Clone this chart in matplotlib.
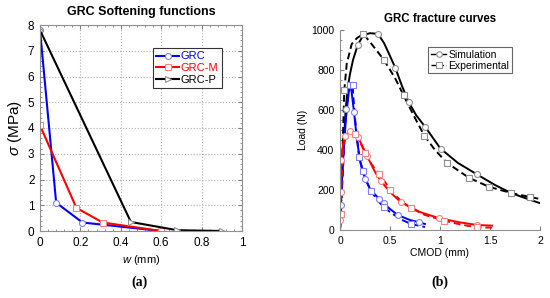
import numpy as np
import matplotlib
matplotlib.use("Agg")
import matplotlib.pyplot as plt
from matplotlib.ticker import AutoMinorLocator

# ---- (a) softening functions ----
grc_w = [0, 0.08, 0.21, 0.6]
grc_s = [7.8, 1.1, 0.33, 0.0]
grcm_w = [0, 0.18, 0.31, 0.6]
grcm_s = [4.1, 0.9, 0.33, 0.0]
grcp_w = [0, 0.45, 0.68, 0.9]
grcp_s = [7.8, 0.35, 0.03, 0.0]
a_xticks = [0, 0.2, 0.4, 0.6, 0.8, 1]
a_xlabels = ['0', '0.2', '0.4', '0.6', '0.8', '1']
a_yticks = [0, 1, 2, 3, 4, 5, 6, 7, 8]

# ---- (b) fracture curves (line points) ----
blk_sim_x = [0, 0.02, 0.04, 0.057, 0.08, 0.10, 0.13, 0.178, 0.234, 0.30, 0.38, 0.44, 0.50, 0.553,
             0.62, 0.687, 0.76, 0.854, 1.005, 1.18, 1.37, 1.55, 1.71, 1.85, 2.0]
blk_sim_y = [0, 250, 450, 606, 720, 780, 850, 926, 975, 984, 981, 935, 870, 811,
             720, 640, 575, 514, 407, 335, 278, 225, 185, 160, 134]
blk_exp_x = [0, 0.02, 0.043, 0.067, 0.117, 0.17, 0.234, 0.30, 0.44, 0.55, 0.636, 0.75, 0.844,
             0.95, 1.07, 1.29, 1.49, 1.71, 1.9, 2.0]
blk_exp_y = [0, 300, 698, 830, 930, 960, 980, 940, 850, 760, 673, 560, 471,
             400, 336, 261, 216, 185, 165, 155]
blu_sim_x = [0, 0.007, 0.03, 0.06, 0.09, 0.105, 0.14, 0.17, 0.2, 0.25, 0.3, 0.39, 0.44, 0.5,
             0.58, 0.7, 0.79, 0.85]
blu_sim_y = [0, 123, 350, 560, 700, 735, 590, 450, 350, 257, 205, 156, 133, 105,
             74, 50, 39, 30]
blu_exp_x = [0, 0.03, 0.06, 0.10, 0.125, 0.15, 0.19, 0.225, 0.27, 0.31, 0.38, 0.44, 0.5,
             0.6, 0.71, 0.85]
blu_exp_y = [0, 300, 600, 725, 725, 560, 365, 295, 240, 195, 145, 114, 90,
             55, 30, 15]
red_sim_x = [0, 0.003, 0.007, 0.013, 0.03, 0.05, 0.1, 0.15, 0.18, 0.27, 0.35, 0.41, 0.5,
             0.61, 0.8, 0.99, 1.2, 1.37, 1.52]
red_sim_y = [0, 50, 190, 348, 430, 470, 496, 485, 466, 370, 290, 244, 190,
             138, 90, 59, 38, 25, 22]
red_exp_x = [0, 0.007, 0.02, 0.04, 0.07, 0.1, 0.145, 0.2, 0.25, 0.32, 0.39, 0.45, 0.5,
             0.6, 0.71, 0.85, 1.04, 1.2, 1.37, 1.52]
red_exp_y = [0, 79, 300, 440, 480, 495, 479, 440, 387, 325, 280, 240, 202,
             150, 109, 75, 47, 28, 13, 12]

# marker positions
blk_sim_mx = [0.057, 0.178, 0.38, 0.553, 0.687, 0.854, 1.005, 1.37, 1.71]
blk_sim_my = [606, 926, 981, 811, 640, 514, 407, 278, 185]
blk_exp_mx = [0.043, 0.234, 0.44, 0.636, 0.844, 1.07, 1.29, 1.49, 1.71, 1.9]
blk_exp_my = [698, 980, 850, 673, 471, 336, 261, 216, 185, 165]
blu_sim_mx = [0.007, 0.14, 0.25, 0.39, 0.44, 0.58, 0.79]
blu_sim_my = [123, 590, 257, 156, 133, 74, 39]
blu_exp_mx = [0.10, 0.125, 0.19, 0.225, 0.31, 0.44, 0.71]
blu_exp_my = [725, 725, 365, 295, 195, 114, 30]
red_sim_mx = [0.003, 0.007, 0.013, 0.05, 0.1, 0.18, 0.27, 0.41, 0.61, 0.99, 1.37]
red_sim_my = [50, 190, 348, 470, 496, 466, 370, 244, 138, 59, 25]
red_exp_mx = [0.007, 0.145, 0.25, 0.39, 0.5, 0.71, 1.04, 1.37]
red_exp_my = [79, 479, 387, 280, 202, 109, 47, 13]
b_xticks = [0, 0.5, 1, 1.5, 2]
b_xlabels = ['0', '0.5', '1', '1.5', '2']
b_yticks = [0, 200, 400, 600, 800, 1000]

plt.rcParams['font.family'] = ['Liberation Sans', 'DejaVu Sans']
plt.rcParams['mathtext.fontset'] = 'custom'
plt.rcParams['mathtext.it'] = 'Liberation Sans:italic'
plt.rcParams['mathtext.rm'] = 'Liberation Sans'
fig = plt.figure(figsize=(5.5, 2.98), dpi=100)

# ---------------- panel (a) ----------------
ax1 = fig.add_axes([40/550, 1-231/298, 202/550, 206/298])
ms = 4.3
ax1.plot(grc_w, grc_s, '-', color='#0000ff', lw=1.5, marker='o', ms=ms, mfc='white',
         mec='#8080ff', mew=0.8, label='GRC')
ax1.plot(grcm_w, grcm_s, '-', color='#ff0000', lw=1.5, marker='s', ms=ms, mfc='white',
         mec='#ff8080', mew=0.8, label='GRC-M')
ax1.plot(grcp_w, grcp_s, '-', color='black', lw=1.5, marker='>', ms=ms, mfc='white',
         mec='#909090', mew=0.8, label='GRC-P')
ax1.set_xticks(a_xticks, a_xlabels)
ax1.set_yticks(a_yticks)
ax1.set_xlim(0, 1)
ax1.set_ylim(0, 8)
ax1.yaxis.set_minor_locator(AutoMinorLocator(5))
ax1.xaxis.set_minor_locator(AutoMinorLocator(5))
ax1.grid(True, which='major', ls=':', color='#b0b0b0', lw=0.8)
ax1.tick_params(which='both', direction='in', top=True, right=True, labelsize=8.5,
                color='#808080', pad=4)
ax1.tick_params(which='major', length=3)
ax1.tick_params(which='minor', length=1.5)
for sp in ax1.spines.values():
    sp.set_color('#909090')
    sp.set_linewidth(0.8)
ax1.set_xlabel(r'$w$ (mm)', fontsize=8, labelpad=3)
ax1.set_ylabel(r'$\sigma$ (MPa)', fontsize=11, labelpad=3)
ax1.set_title('GRC Softening functions', fontsize=9, fontweight='bold', pad=7)
leg1 = ax1.legend(loc='upper right', bbox_to_anchor=(0.90, 0.888), fontsize=8, frameon=True,
                  fancybox=False, edgecolor='black', handlelength=2.0, handletextpad=0.2,
                  borderpad=0.3, labelspacing=0.15, borderaxespad=0)
leg1.get_frame().set_linewidth(0.8)
for t, c in zip(leg1.get_texts(), ['#0000ff', '#ff0000', 'black']):
    t.set_color(c)

# ---------------- panel (b) ----------------
ax2 = fig.add_axes([340/550, 1-230/298, 200/550, 200/298])
lw = 1.4
mk = dict(ms=4.3, mfc='white', mew=0.8, ls='none')
ax2.plot(blk_sim_x, blk_sim_y, '-', color='black', lw=lw)
ax2.plot(blk_exp_x, blk_exp_y, '--', color='black', lw=lw, dashes=(3.5, 2))
ax2.plot(blu_sim_x, blu_sim_y, '-', color='#0000ff', lw=lw)
ax2.plot(blu_exp_x, blu_exp_y, '--', color='#0000ff', lw=lw, dashes=(3.5, 2))
ax2.plot(red_sim_x, red_sim_y, '-', color='#ff0000', lw=lw)
ax2.plot(red_exp_x, red_exp_y, '--', color='#ff0000', lw=lw, dashes=(3.5, 2))
ax2.plot(blk_sim_mx, blk_sim_my, marker='o', mec='#909090', **mk)
ax2.plot(blk_exp_mx, blk_exp_my, marker='s', mec='#909090', **mk)
ax2.plot(blu_sim_mx, blu_sim_my, marker='o', mec='#8080ff', **mk)
ax2.plot(blu_exp_mx, blu_exp_my, marker='s', mec='#8080ff', **mk)
ax2.plot(red_sim_mx, red_sim_my, marker='o', mec='#ff8080', **mk)
ax2.plot(red_exp_mx, red_exp_my, marker='s', mec='#ff8080', **mk)
# legend handles
ax2.plot([], [], '-', color='black', lw=1, marker='o', ms=4, mfc='white', mec='#909090',
         mew=0.8, label='Simulation')
ax2.plot([], [], '--', color='black', lw=1, marker='s', ms=4, mfc='white', mec='#909090',
         mew=0.8, label='Experimental')
ax2.set_xticks(b_xticks, b_xlabels)
ax2.set_yticks(b_yticks)
ax2.set_xlim(0, 2)
ax2.set_ylim(0, 1000)
ax2.yaxis.set_minor_locator(AutoMinorLocator(4))
ax2.tick_params(which='both', direction='in', labelsize=7.5, color='#808080', pad=4)
ax2.tick_params(which='major', length=3)
ax2.tick_params(which='minor', length=1.5)
ax2.spines['top'].set_visible(False)
ax2.spines['right'].set_visible(False)
for sp in ['left', 'bottom']:
    ax2.spines[sp].set_color('#909090')
    ax2.spines[sp].set_linewidth(0.8)
ax2.set_xlabel('CMOD (mm)', fontsize=7.5, labelpad=1.5)
ax2.set_ylabel('Load (N)', fontsize=7.5, labelpad=2.5)
ax2.set_title('GRC fracture curves', fontsize=8.3, fontweight='bold', pad=6)
leg2 = ax2.legend(loc='upper right', bbox_to_anchor=(0.86, 0.915), fontsize=7.5, frameon=True,
                  fancybox=False, edgecolor='#404040', handlelength=1.5, handletextpad=0.2,
                  borderpad=0.25, labelspacing=0.1, borderaxespad=0)
leg2.get_frame().set_linewidth(0.8)

# captions
fig.text(140/550, 1-282/298, '(a)', ha='center', va='center', fontsize=10,
         fontweight='bold', family='Liberation Serif')
fig.text(440/550, 1-282/298, '(b)', ha='center', va='center', fontsize=10,
         fontweight='bold', family='Liberation Serif')

fig.savefig('out.png', dpi=100)
